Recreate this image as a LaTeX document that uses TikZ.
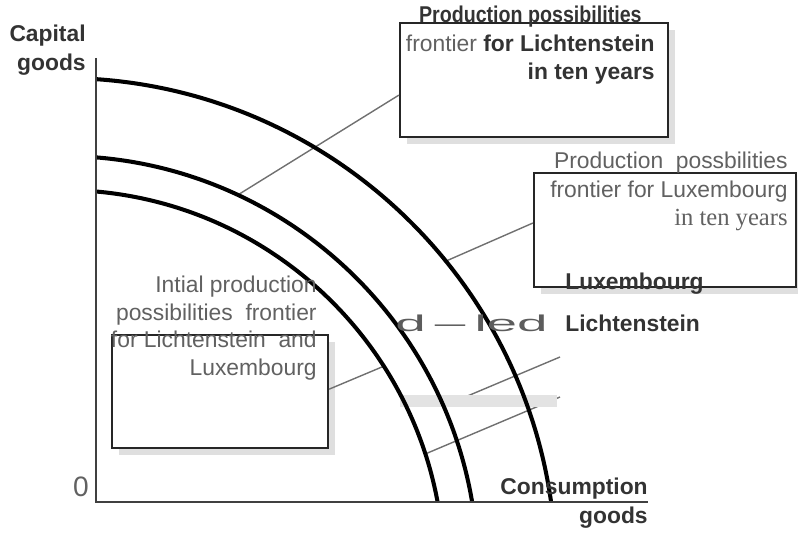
\documentclass[tikz,border=0pt]{standalone}
\usepackage{fontspec}
\setmainfont{Liberation Sans}
\newfontfamily\serifface{Liberation Serif}
\usetikzlibrary{calc,shadows}
\definecolor{txtgray}{HTML}{616161}
\definecolor{boldgray}{HTML}{333333}
\definecolor{leadgray}{HTML}{707070}
\newcommand{\lblsize}{\fontsize{13}{16}\selectfont}
\newcommand{\bd}[1]{{\color{boldgray}\bfseries #1}}

\begin{document}
\begin{tikzpicture}[
  x=0.02cm, y=-0.02cm,
  every node/.style={inner sep=0pt, text=txtgray, font=\lblsize},
  boldlbl/.style={text=boldgray, font=\lblsize\bfseries},
  ppfbox/.style={
    draw=black!85,
    line width=1.3pt,
    fill=white,
    drop shadow={shadow xshift=4pt, shadow yshift=-4pt, opacity=0.25}
  },
  frontier/.style={line width=2.3pt, black},
  axisline/.style={line width=1.2pt, black!75},
  leader/.style={line width=0.8pt, leadgray}
]
\useasboundingbox (0,0) rectangle (798,560);

% centre of the three frontiers and the axes
\coordinate (ctr)    at (62,572);
\coordinate (ytop)   at (96,58);
\coordinate (origin) at (96,502);
\coordinate (xend)   at (648,502);
\coordinate (luxend) at (560,357);
\coordinate (licend) at (560,397);

% boxes
\node[ppfbox, minimum width=5.36cm, minimum height=2.28cm] (tenlic) at (534,80) {};
\node[ppfbox, minimum width=5.24cm, minimum height=2.28cm] (tenlux) at (665,230) {};
\node[ppfbox, minimum width=4.32cm, minimum height=2.26cm] (initial) at (220,391.5) {};

% leaders
\draw[leader] ($(ctr)+(-65:416)$) -- ($(tenlic.north west)!0.63!(tenlic.south west)$);
\draw[leader] ($(ctr)+(-39:494)$) -- ($(tenlux.north west)!0.44!(tenlux.south west)$);
\draw[leader] ($(initial.north east)!0.48!(initial.south east)$) -- ($(ctr)+(-32.6:382)$);
\draw[leader] ($(ctr)+(-23.5:416)$) -- (luxend);
\draw[leader] ($(ctr)+(-18:382)$) -- (licend);
\fill[gray!22] (400,395) rectangle (557,407);

% frontiers
\begin{scope}
  \clip (96,0) rectangle (798,502);
  \draw[frontier] (ctr) circle[radius=382];
  \draw[frontier] (ctr) circle[radius=416];
  \draw[frontier] (ctr) circle[radius=494];
\end{scope}

% axes
\draw[axisline] (ytop) -- (origin) -- (xend);

% labels
\node[boldlbl, align=right, anchor=north east] (capital) at (86,25) {Capital\\goods};
\node[anchor=base east, font=\fontsize{16}{18}\selectfont] (zero) at (89,497) {0};
\node[boldlbl, align=right, anchor=north east] (consumption) at (648,478) {Consumption\\goods};

\node[align=right, anchor=north east] (tenlictext) at (655,6)
  {\bd{\scalebox{0.86}[1]{Production possibilities}}\hspace*{0.26cm}\\frontier \bd{for Lichtenstein}\\\bd{in ten years}};
\node[align=right, anchor=north east] (tenluxtext) at (788,152)
  {Production\ \ possbilities\\frontier for Luxembourg\\{\serifface\fontsize{14}{16}\selectfont in ten years}};
\node[align=right, anchor=north east, font=\fontsize{13}{15.6}\selectfont] (initialtext) at (317,276)
  {Intial production\\possibilities\ \ frontier\\for Lichtenstein\ \ and\\Luxembourg};

\node[boldlbl, anchor=base west] (luxlbl) at (565,290) {Luxembourg};
\node[boldlbl, anchor=base west] (liclbl) at (565,332) {Lichtenstein};
\node[anchor=base west, text=boldgray!80] (garble) at (395,332) {\scalebox{2.4}[1]{d\,--\,led}};
\end{tikzpicture}
\end{document}
